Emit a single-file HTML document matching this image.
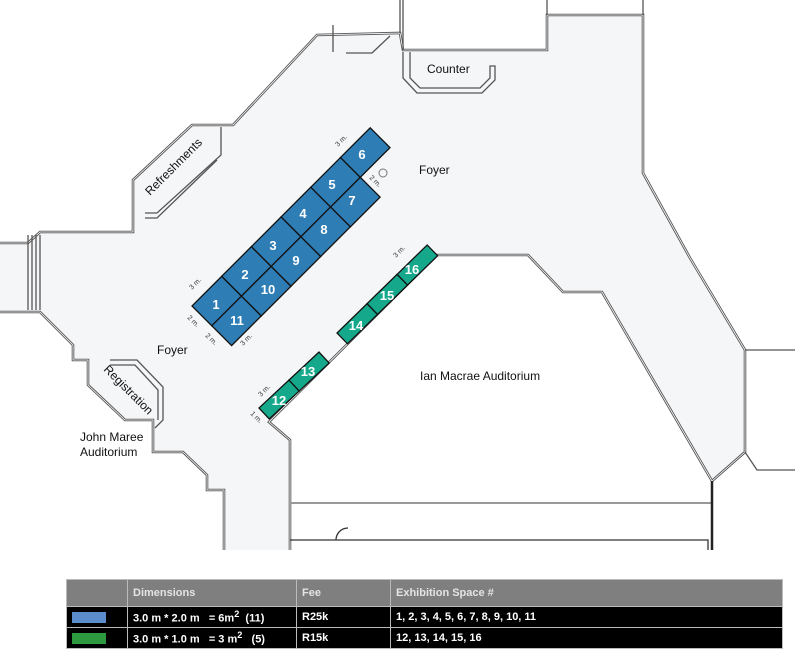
<!DOCTYPE html>
<html><head><meta charset="utf-8"><style>
body{margin:0;background:#fff;width:795px;height:660px;overflow:hidden;font-family:"Liberation Sans",sans-serif}
svg{position:absolute;left:0;top:0}
table{position:absolute;left:66px;top:579px;width:717px;border-collapse:collapse;font-family:"Liberation Sans Narrow","Liberation Sans",sans-serif;font-size:11px;font-weight:bold;}
td{border:1px solid #bbb;padding:0 0 0 5px;height:20px;color:#fff}
tr.h td{background:#7f7f7f;color:#e4e4e4;height:26px}
tr.r td{background:#000}
</style></head><body>
<svg width="795" height="550" viewBox="0 0 795 550">
<g stroke-linejoin="miter">
<polygon points="-5,243 28,243 40,232 133,232 133,180 192,125 233,125 317,35 400,33 403,50 547,50 547,15 643,15 643,173 690,258 745,350 745,452 712,481 602,292 563,292 528,255 437,255 269,422 290,440 290,560 224,560 224,490 207,490 207,475 183,452 153,452 153,420 125,420 88,385 88,360 73,360 73,345 40,312 -5,312" fill="#f5f6f8" stroke="#555" stroke-width="2.6"/>
<polygon points="-5,243 28,243 40,232 133,232 133,180 192,125 233,125 317,35 400,33 403,50 547,50 547,15 643,15 643,173 690,258 745,350 745,452 712,481 602,292 563,292 528,255 437,255 269,422 290,440 290,560 224,560 224,490 207,490 207,475 183,452 153,452 153,420 125,420 88,385 88,360 73,360 73,345 40,312 -5,312" fill="none" stroke="#fff" stroke-width="0.8"/>
</g>
<g fill="none" stroke="#555" stroke-width="1.3">
<line x1="28" y1="235" x2="28" y2="310"/><line x1="32" y1="235" x2="32" y2="310"/><line x1="36" y1="235" x2="36" y2="310"/><line x1="40" y1="235" x2="40" y2="310"/>
<polyline points="400,33 400,0"/><polyline points="333,25 333,52"/>
<polyline points="346,53 372,53 390,36"/>
<polyline points="403,0 403,50"/><polyline points="547,0 547,15"/><polyline points="643,0 643,15"/>
<polyline points="403,52 403,78 417,93 482,93 495,80 495,66 490,66 490,78 480,88 420,88 410,78 410,52"/>
<polyline points="145,213 157,213 221,155 221,127"/>
<polyline points="145,218 157,218 217,160"/>
<polyline points="110,360 137,360 163,387 163,420 155,428"/>
<polyline points="110,365 135,365 158,390 158,420"/>
<polyline points="745,350 795,350"/><polyline points="745,452 757,470 795,470"/>
<line x1="290" y1="503" x2="712" y2="503" stroke="#999" stroke-width="2"/>
<polyline points="290,540 708,540 708,552" stroke="#333"/>
<line x1="712" y1="481" x2="712" y2="552" stroke="#222" stroke-width="2.5"/>
<path d="M336,540 A12,12 0 0 1 348,528" stroke="#333"/>
</g>
<circle cx="383" cy="173" r="4" fill="none" stroke="#777"/>
<g transform="translate(192,306) rotate(-45)" fill="#2f7db5" stroke="#111" stroke-width="1.3">
<rect x="0" y="0" width="42" height="28"/><rect x="42" y="0" width="42" height="28"/><rect x="84" y="0" width="42" height="28"/><rect x="126" y="0" width="42" height="28"/><rect x="168" y="0" width="42" height="28"/><rect x="210" y="0" width="42" height="28"/>
<rect x="0" y="28" width="42" height="28"/><rect x="42" y="28" width="42" height="28"/><rect x="84" y="28" width="42" height="28"/><rect x="126" y="28" width="42" height="28"/><rect x="168" y="28" width="42" height="28"/>
</g>
<g transform="translate(259,408) rotate(-43)" fill="#15a88a" stroke="#111" stroke-width="1.3">
<rect x="0" y="0" width="41" height="15"/><rect x="41" y="0" width="41" height="15"/></g>
<g transform="translate(337,333) rotate(-44.3)" fill="#15a88a" stroke="#111" stroke-width="1.3">
<rect x="0" y="0" width="42" height="15"/><rect x="42" y="0" width="42" height="15"/><rect x="84" y="0" width="42" height="15"/></g>
<g fill="#fff" font-weight="bold" font-size="13" text-anchor="middle">
<text x="216" y="309">1</text><text x="245" y="279">2</text><text x="273" y="250">3</text><text x="303" y="218">4</text><text x="332" y="189">5</text><text x="362" y="159">6</text>
<text x="352" y="205">7</text><text x="324" y="234">8</text><text x="296" y="265">9</text><text x="268" y="294">10</text><text x="237" y="325">11</text>
<text x="279" y="405">12</text><text x="308" y="376">13</text><text x="356" y="330">14</text><text x="387" y="300">15</text><text x="412" y="274">16</text>
</g>
<g fill="#333" font-size="7">
<text transform="translate(192,290) rotate(-45)">3 m.</text>
<text transform="translate(187,318) rotate(45)">2 m.</text>
<text transform="translate(205,336) rotate(45)">2 m.</text>
<text transform="translate(243,346) rotate(-45)">3 m.</text>
<text transform="translate(338,147) rotate(-45)">3 m.</text>
<text transform="translate(369,178) rotate(45)">2 m.</text>
<text transform="translate(396,258) rotate(-45)">3 m.</text>
<text transform="translate(261,397) rotate(-45)">3 m.</text>
<text transform="translate(250,414) rotate(45)">1 m.</text>
</g>
<g fill="#111" font-size="12">
<text x="427" y="73">Counter</text>
<text x="419" y="174">Foyer</text>
<text x="157" y="354">Foyer</text>
<text x="420" y="380">Ian Macrae Auditorium</text>
<text x="80" y="441">John Maree</text>
<text x="80" y="456">Auditorium</text>
<text transform="translate(150,196) rotate(-45)">Refreshments</text>
<text transform="translate(103,370) rotate(45)">Registration</text>
</g>
</svg>
<table>
<tr class="h"><td style="width:55px"></td><td style="width:163px">Dimensions</td><td style="width:88px">Fee</td><td>Exhibition Space #</td></tr>
<tr class="r"><td><div style="width:34px;height:11px;background:#5b8ccc"></div></td><td>3.0 m * 2.0 m &nbsp;&nbsp;= 6m<sup>2</sup> &nbsp;(11)</td><td>R25k</td><td>1, 2, 3, 4, 5, 6, 7, 8, 9, 10, 11</td></tr>
<tr class="r"><td><div style="width:34px;height:11px;background:#2e9a40"></div></td><td>3.0 m * 1.0 m &nbsp;&nbsp;= 3 m<sup>2</sup> &nbsp;&nbsp;(5)</td><td>R15k</td><td>12, 13, 14, 15, 16</td></tr>
</table>
</body></html>
